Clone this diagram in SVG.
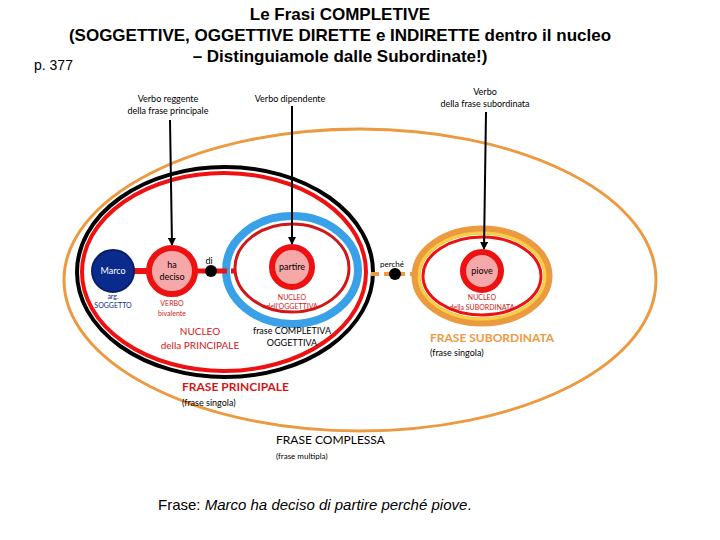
<svg xmlns="http://www.w3.org/2000/svg" width="720" height="540" viewBox="0 0 720 540">
<style>
.t{font-family:"Liberation Sans",Arial,sans-serif}
.c{font-family:Lato,"Liberation Sans",sans-serif}
.lbl{font-size:9px;fill:#000}
.red{fill:#d01818}
.nd{stroke:#ee1111;stroke-width:6;fill:#f6a8a8}
</style>
<defs><marker id="ah" markerWidth="8" markerHeight="8" refX="7" refY="4" orient="auto" markerUnits="userSpaceOnUse"><path d="M0,0 L8,4 L0,8 z" fill="#000"/></marker></defs>
<rect width="720" height="540" fill="#fff"/>
<g id="title" class="t" font-weight="bold" font-size="17" text-anchor="middle">
<text x="340" y="20">Le Frasi COMPLETIVE</text>
<text x="340" y="41">(SOGGETTIVE, OGGETTIVE DIRETTE  e INDIRETTE dentro il nucleo</text>
<text x="340" y="62">– Distinguiamole dalle Subordinate!)</text>
</g>
<text x="34" y="70" class="t" font-size="14">p. 377</text>
<g id="complessa"><ellipse cx="360" cy="280" rx="296" ry="151" fill="none" stroke="#ec9a40" stroke-width="3"/>
<text x="276" y="444" class="c" font-size="12">FRASE COMPLESSA</text>
<text x="276" y="459" class="c" font-size="8">(frase multipla)</text></g>
<g id="principale"><ellipse cx="225" cy="272" rx="148" ry="105" fill="none" stroke="#000" stroke-width="4"/>
<ellipse cx="224" cy="272" rx="142" ry="99" fill="none" stroke="#ee1111" stroke-width="4"/>
<text x="182" y="391" class="c red" font-size="12" font-weight="bold">FRASE PRINCIPALE</text>
<text x="182" y="406" class="c" font-size="9">(frase singola)</text>
<text x="200" y="335" class="c red" font-size="10" text-anchor="middle">NUCLEO</text>
<text x="200" y="349" class="c red" font-size="10" text-anchor="middle">della  PRINCIPALE</text></g>
<g id="oggettiva"><ellipse cx="292" cy="270" rx="66" ry="54" fill="#fff" stroke="#3aa0e8" stroke-width="8"/>
<ellipse cx="292" cy="268" rx="57" ry="44" fill="none" stroke="#d01818" stroke-width="3"/>
<text x="292" y="334" class="c lbl" font-size="8" text-anchor="middle">frase COMPLETIVA</text>
<text x="292" y="346" class="c lbl" font-size="8" text-anchor="middle">OGGETTIVA</text>
<text x="292" y="300" class="c red" font-size="7" text-anchor="middle">NUCLEO</text>
<text x="292" y="309" class="c red" font-size="7" text-anchor="middle">dell'OGGETTIVA</text></g>
<g id="subordinata"><ellipse cx="482" cy="276" rx="66" ry="46" fill="#fff" stroke="#ec9a40" stroke-width="9"/>
<ellipse cx="482" cy="276" rx="63" ry="43" fill="none" stroke="#f8d040" stroke-width="3"/>
<ellipse cx="482" cy="276" rx="59" ry="39" fill="none" stroke="#ee1111" stroke-width="3"/>
<text x="482" y="300" class="c red" font-size="7" text-anchor="middle">NUCLEO</text>
<text x="482" y="310" class="c red" font-size="7" text-anchor="middle">della SUBORDINATA</text>
<text x="430" y="342" class="c" font-size="12" font-weight="bold" fill="#ec9a40">FRASE SUBORDINATA</text>
<text x="430" y="356" class="c" font-size="9">(frase singola)</text></g>
<g id="connectors">
<line x1="133" y1="271" x2="150" y2="271" stroke="#ee1111" stroke-width="6"/>
<line x1="195" y1="271" x2="234" y2="271" stroke="#ee1111" stroke-width="5" stroke-dasharray="14,4"/>
<line x1="371" y1="274" x2="418" y2="274" stroke="#ec9a40" stroke-width="4" stroke-dasharray="8,5"/>
<line x1="170" y1="120" x2="172" y2="245" stroke="#000" stroke-width="2" marker-end="url(#ah)"/>
<line x1="292" y1="106" x2="292" y2="244" stroke="#000" stroke-width="2" marker-end="url(#ah)"/>
<line x1="486" y1="112" x2="484" y2="249" stroke="#000" stroke-width="2" marker-end="url(#ah)"/>
</g>
<g id="marco"><circle cx="113" cy="271" r="21" fill="#0a2a8c" stroke="#081e66" stroke-width="2"/>
<text x="113" y="274" class="c" font-size="9" fill="#fff" text-anchor="middle">Marco</text>
<text x="113" y="299" class="c" font-size="7" fill="#0a2a8c" text-anchor="middle">arg.</text>
<text x="113" y="308" class="c" font-size="7" fill="#0a2a8c" text-anchor="middle">SOGGETTO</text></g>
<g id="hadeciso"><circle cx="172" cy="271" r="23" class="nd"/>
<text x="172" y="268" class="c lbl" text-anchor="middle">ha</text>
<text x="172" y="280" class="c lbl" text-anchor="middle">deciso</text>
<text x="172" y="306" class="c red" font-size="7" text-anchor="middle">VERBO</text>
<text x="172" y="316" class="c red" font-size="7" text-anchor="middle">bivalente</text></g>
<g id="di"><circle cx="211" cy="271" r="6" fill="#000"/><text x="209" y="264" class="c lbl" text-anchor="middle">di</text></g>
<g id="partire"><circle cx="292" cy="267" r="20" class="nd"/><text x="292" y="270" class="c lbl" text-anchor="middle">partire</text></g>
<g id="perche"><circle cx="395" cy="274" r="6" fill="#000"/><text x="392" y="267" class="c" font-size="8" text-anchor="middle">perché</text></g>
<g id="piove"><circle cx="482" cy="271" r="19" class="nd"/><text x="482" y="274" class="c lbl" text-anchor="middle">piove</text></g>
<g id="labels" class="c lbl" text-anchor="middle">
<text x="168" y="102">Verbo reggente</text><text x="168" y="114">della frase principale</text>
<text x="290" y="102">Verbo dipendente</text>
<text x="485" y="95">Verbo</text><text x="485" y="107">della frase subordinata</text>
</g>
<text x="158" y="510" class="t" font-size="15">Frase: <tspan font-style="italic">Marco ha deciso di partire perché piove</tspan>.</text>
</svg>
